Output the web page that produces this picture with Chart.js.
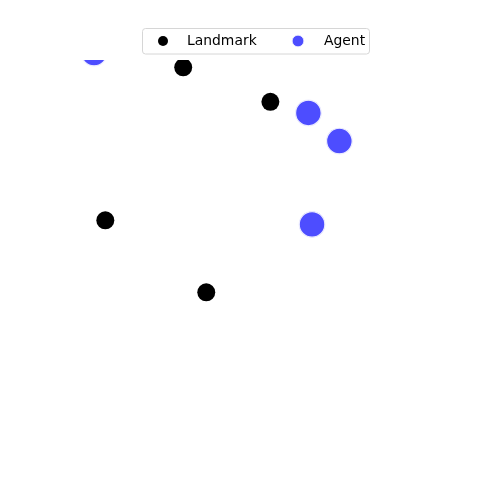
<!DOCTYPE html>
<html>
<head>
<meta charset="utf-8">
<script src="https://cdn.jsdelivr.net/npm/chart.js@4"></script>
<style>
html,body{margin:0;padding:0;background:#fff;}
#wrap{width:500px;height:500px;position:relative;}
</style>
</head>
<body>
<div id="wrap"><canvas id="c" width="500" height="500"></canvas></div>
<script>
// Data (world coordinates, axes range -1..1)
const seriesNames = ["Landmark", "Agent"];
const landmarkX = [-0.377, 0.073, -0.779, -0.258];
const landmarkY = [0.962, 0.783, 0.167, -0.207];
const agentX = [-0.837, 0.269, 0.429, 0.288];
const agentY = [1.036, 0.725, 0.579, 0.146];

const toPts = (xs, ys) => xs.map((x, i) => ({x: x, y: ys[i]}));

const legendPlugin = {
  id: 'boxLegend',
  afterDraw(chart) {
    const ctx = chart.ctx;
    ctx.save();
    // frame
    const x0 = 142.5, y0 = 28.5, w = 227, h = 25.5, r = 3;
    ctx.beginPath();
    ctx.moveTo(x0 + r, y0);
    ctx.lineTo(x0 + w - r, y0);
    ctx.quadraticCurveTo(x0 + w, y0, x0 + w, y0 + r);
    ctx.lineTo(x0 + w, y0 + h - r);
    ctx.quadraticCurveTo(x0 + w, y0 + h, x0 + w - r, y0 + h);
    ctx.lineTo(x0 + r, y0 + h);
    ctx.quadraticCurveTo(x0, y0 + h, x0, y0 + h - r);
    ctx.lineTo(x0, y0 + r);
    ctx.quadraticCurveTo(x0, y0, x0 + r, y0);
    ctx.closePath();
    ctx.fillStyle = 'rgba(255,255,255,0.8)';
    ctx.fill();
    ctx.strokeStyle = '#d6d6d6';
    ctx.lineWidth = 1;
    ctx.stroke();
    const ds = chart.data.datasets;
    const items = [
      {mx: 163, tx: 187, r: 5, ds: ds[0]},
      {mx: 298, tx: 324, r: 5.8, ds: ds[1]}
    ];
    ctx.font = '13.9px "DejaVu Sans"';
    ctx.textBaseline = 'middle';
    items.forEach(it => {
      ctx.beginPath();
      ctx.arc(it.mx, 41, it.r, 0, Math.PI * 2);
      ctx.fillStyle = it.ds.backgroundColor;
      ctx.fill();
      if (it.ds.borderWidth) {
        ctx.strokeStyle = it.ds.borderColor;
        ctx.lineWidth = 0.8;
        ctx.stroke();
      }
      ctx.fillStyle = '#000';
      ctx.fillText(it.ds.label, it.tx, 41.5);
    });
    ctx.restore();
  }
};

new Chart(document.getElementById('c'), {
  type: 'scatter',
  data: {
    datasets: [
      {
        label: seriesNames[0],
        data: toPts(landmarkX, landmarkY),
        backgroundColor: '#000000',
        borderColor: '#000000',
        borderWidth: 0,
        pointRadius: 9,
        pointHoverRadius: 9,
        clip: 0
      },
      {
        label: seriesNames[1],
        data: toPts(agentX, agentY),
        backgroundColor: 'rgb(77,77,255)',
        borderColor: 'rgba(235,235,255,1)',
        borderWidth: 1.2,
        pointRadius: 12.8,
        pointHoverRadius: 12.8,
        clip: 0
      }
    ]
  },
  options: {
    responsive: false,
    animation: false,
    devicePixelRatio: 1,
    layout: {padding: {left: 62.5, right: 50, top: 60, bottom: 55}},
    scales: {
      x: {display: false, min: -1, max: 1},
      y: {display: false, min: -1, max: 1}
    },
    plugins: {
      legend: {display: false},
      tooltip: {enabled: false}
    }
  },
  plugins: [legendPlugin]
});
</script>
</body>
</html>
